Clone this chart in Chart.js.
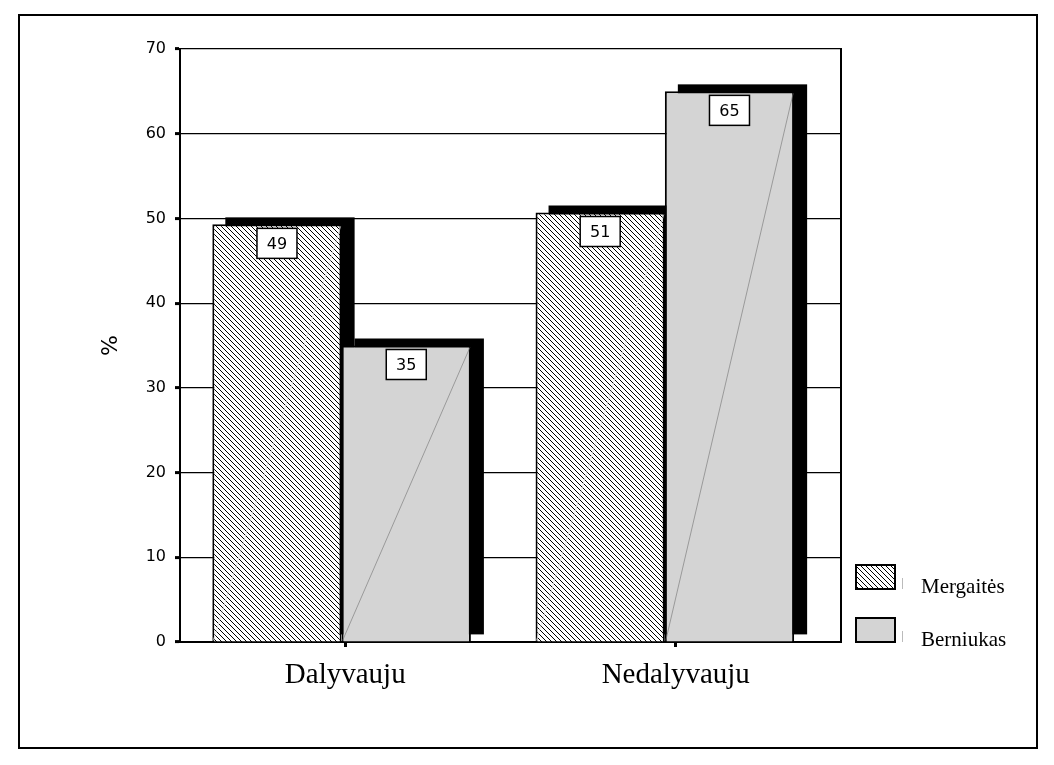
<!DOCTYPE html>
<html><head><meta charset="utf-8">
<script src="https://cdn.jsdelivr.net/npm/chart.js@4"></script>
<style>html,body{margin:0;padding:0;background:#fff}#wrap{width:1054px;height:765px;position:relative}</style>
</head><body><div id="wrap"><canvas id="c" width="1054" height="765"></canvas></div>
<script>
const categories = ['Dalyvauju', 'Nedalyvauju'];
const seriesNames = ['Mergaitės', 'Berniukas'];
const mergaites = [49.3, 50.7];
const berniukas = [35, 65];
const yMin = 0, yMax = 70, yStep = 10;
const yTitle = '%';

const canvas = document.getElementById('c');
const ctx0 = canvas.getContext('2d');
function makeHatch(){
  const c = document.createElement('canvas'); c.width = 5; c.height = 5;
  const g = c.getContext('2d');
  g.fillStyle = '#fff'; g.fillRect(0,0,5,5);
  g.fillStyle = '#000';
  for (let i=0;i<5;i++) g.fillRect(i,i,1,1);
  return ctx0.createPattern(c,'repeat');
}
const hatch = makeHatch();
const gray = '#d4d4d4';
const fills = [hatch, gray];
const diagColors = ['rgba(230,230,230,0.9)', 'rgba(120,120,120,0.8)'];

const frame = {
  id:'frame',
  beforeDraw(chart){
    const c = chart.ctx; c.save();
    c.fillStyle='#fff'; c.fillRect(0,0,chart.width,chart.height);
    c.strokeStyle='#000'; c.lineWidth=2;
    c.strokeRect(19,15,1018,733);
    c.restore();
  }
};
const shadows = {
  id:'shadows',
  beforeDatasetsDraw(chart){
    const c = chart.ctx; c.save(); c.fillStyle='#000';
    chart.data.datasets.forEach((ds,di)=>{
      chart.getDatasetMeta(di).data.forEach(el=>{
        const p = el.getProps(['x','y','base','width'], true);
        c.fillRect(p.x - p.width/2 + 13, p.y - 7, p.width, p.base - p.y);
      });
    });
    c.restore();
  },
  afterDatasetsDraw(chart){
    const c = chart.ctx; c.save();
    chart.data.datasets.forEach((ds,di)=>{
      chart.getDatasetMeta(di).data.forEach((el,i)=>{
        const p = el.getProps(['x','y','base','width'], true);
        const l = p.x - p.width/2, r = p.x + p.width/2;
        c.strokeStyle = diagColors[di]; c.lineWidth = 0.8;
        c.beginPath(); c.moveTo(l+1, p.base-1); c.lineTo(r-1, p.y+2); c.stroke();
        const txt = String(Math.round(ds.data[i].y));
        c.font = '16px "DejaVu Sans"';
        const bw = 40, bh = 30, bx = p.x - bw/2, by = p.y + 4;
        c.fillStyle = '#fff'; c.fillRect(bx,by,bw,bh);
        c.strokeStyle = '#000'; c.lineWidth = 1.5; c.strokeRect(bx,by,bw,bh);
        c.fillStyle = '#000'; c.textAlign='center'; c.textBaseline='middle';
        c.fillText(txt, p.x, by + bh/2 + 1);
      });
    });
    c.restore();
  }
};
const legendBox = {
  id:'legendBox',
  afterDraw(chart){
    const c = chart.ctx; c.save();
    const ys = [565, 618];
    chart.data.datasets.forEach((ds,di)=>{
      const y = ys[di];
      c.fillStyle = ds.backgroundColor; c.fillRect(856,y,39,24);
      c.strokeStyle = '#000'; c.lineWidth = 2; c.strokeRect(856,y,39,24);
      c.strokeStyle = '#bbb'; c.lineWidth = 1;
      c.beginPath(); c.moveTo(902.5, y+13); c.lineTo(902.5, y+24); c.stroke();
      c.fillStyle = '#000'; c.font = '21px "Liberation Serif"';
      c.textAlign = 'left'; c.textBaseline = 'alphabetic';
      c.fillText(ds.label, 921, y + 28);
    });
    c.restore();
  }
};

new Chart(canvas, {
  type:'bar',
  data:{
    datasets:[
      {label:seriesNames[0], data:categories.map((c,i)=>({x:i,y:mergaites[i]})), backgroundColor:fills[0], borderColor:'#000', borderWidth:2, xAxisID:'x', yAxisID:'y', categoryPercentage:0.8, barPercentage:1},
      {label:seriesNames[1], data:categories.map((c,i)=>({x:i,y:berniukas[i]})), backgroundColor:fills[1], borderColor:'#000', borderWidth:2, xAxisID:'x', yAxisID:'y', categoryPercentage:0.8, barPercentage:1}
    ]
  },
  options:{
    responsive:false, animation:false, devicePixelRatio:1,
    layout:{padding:{left:98, right:213, top:49, bottom:0}},
    plugins:{legend:{display:false}, tooltip:{enabled:false}},
    scales:{
      x:{type:'linear', min:-0.5, max:1.545, display:false, offset:false, grid:{offset:false},
        afterBuildTicks(s){ s.ticks = categories.map((c,i)=>({value:i})); }
      },
      xl:{type:'category', labels:categories, position:'bottom', offset:true,
        grid:{drawOnChartArea:false, offset:false, tickLength:5, tickWidth:3, tickColor:'#000'},
        border:{display:true, color:'#000', width:2},
        ticks:{font:{family:'Liberation Serif', size:29}, color:'#000', padding:11, maxRotation:0},
        afterFit(s){ s.height = 123; }
      },
      y:{type:'linear', position:'left', min:yMin, max:yMax,
        ticks:{stepSize:yStep, font:{family:'DejaVu Sans', size:16}, color:'#000', padding:9},
        grid:{color:'#000', lineWidth:1.2, tickLength:5, tickWidth:3, tickColor:'#000'},
        border:{color:'#000', width:2},
        title:{display:true, text:yTitle, font:{family:'DejaVu Sans', size:22}, color:'#000', padding:0},
        afterFit(s){ s.width = 82; }
      },
      y2:{type:'linear', position:'right', min:yMin, max:yMax,
        ticks:{display:false}, grid:{drawOnChartArea:false, drawTicks:false},
        border:{color:'#000', width:2},
        afterFit(s){ s.width = 0; }
      }
    }
  },
  plugins:[frame, shadows, legendBox]
});
</script></body></html>
